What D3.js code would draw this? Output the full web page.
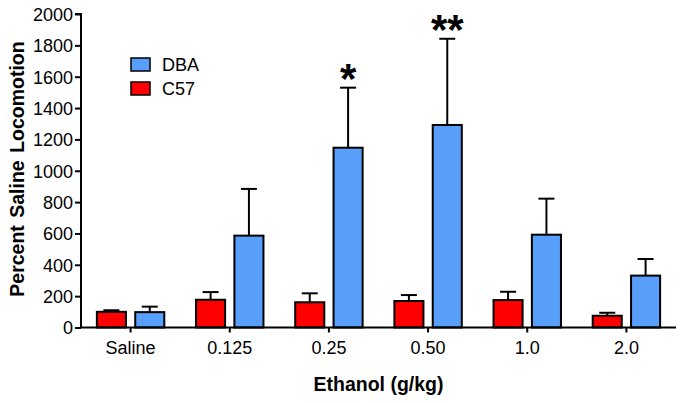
<!DOCTYPE html>
<html>
<head>
<meta charset="utf-8">
<script src="https://cdn.jsdelivr.net/npm/d3@7"></script>
<style>
  html, body { margin: 0; padding: 0; background: #fff; }
  svg { display: block; }
  text { font-family: "Liberation Sans", Arial, Helvetica, sans-serif; fill: #000; }
</style>
</head>
<body>
<svg id="chart" width="683" height="403"></svg>
<script>
const categories = ["Saline", "0.125", "0.25", "0.50", "1.0", "2.0"];
const seriesNames = ["C57", "DBA"];
const c57Values = [100, 177, 161, 169, 175, 75];
const c57Errors = [110, 226, 218, 207, 228, 94];
const dbaValues = [98, 586, 1147, 1292, 592, 331];
const dbaErrors = [133, 884, 1530, 1842, 822, 437];
const significance = ["", "", "*", "**", "", ""];
const yTicks = [0, 200, 400, 600, 800, 1000, 1200, 1400, 1600, 1800, 2000];
const colors = { C57: "#ff0000", DBA: "#579ffb" };

const svg = d3.select("#chart");
const x = d3.scaleBand().domain(categories).range([81, 676]).paddingInner(0.3).paddingOuter(0.15);
const xs = d3.scaleBand().domain(seriesNames).range([0, x.bandwidth()]).paddingInner(0.19);
const y = d3.scaleLinear().domain([0, 2000]).range([327.5, 14]);

const rows = categories.map((c, i) => ({
  cat: c,
  bars: [
    { s: "C57", v: c57Values[i], e: c57Errors[i] },
    { s: "DBA", v: dbaValues[i], e: dbaErrors[i] }
  ],
  sig: significance[i]
}));

const g = svg.append("g");
const groups = g.selectAll("g.cat").data(rows).join("g")
  .attr("transform", d => `translate(${x(d.cat)},0)`);

// error bars (upward only)
groups.selectAll("g.err").data(d => d.bars).join("g").each(function(b) {
  const cx = xs(b.s) + xs.bandwidth() / 2;
  const sel = d3.select(this);
  sel.append("line").attr("x1", cx).attr("x2", cx).attr("y1", y(b.v)).attr("y2", y(b.e))
    .attr("stroke", "#000").attr("stroke-width", 2);
  sel.append("line").attr("x1", cx - 8).attr("x2", cx + 8).attr("y1", y(b.e)).attr("y2", y(b.e))
    .attr("stroke", "#000").attr("stroke-width", 2);
});

groups.selectAll("rect").data(d => d.bars).join("rect")
  .attr("x", b => xs(b.s) + 1)
  .attr("width", xs.bandwidth() - 2)
  .attr("y", b => y(b.v))
  .attr("height", b => y(0) - y(b.v))
  .attr("fill", b => colors[b.s])
  .attr("stroke", "#000")
  .attr("stroke-width", 2);

// significance stars
groups.filter(d => d.sig).append("text")
  .attr("x", xs("DBA") + xs.bandwidth() / 2)
  .attr("y", d => y(d.bars[1].e) + 5)
  .attr("text-anchor", "middle")
  .attr("font-size", 42)
  .attr("font-weight", "bold")
  .text(d => d.sig);

// axes
const yAxis = svg.append("g").attr("transform", "translate(81,0)")
  .call(d3.axisLeft(y).tickValues(yTicks).tickSize(6).tickPadding(2).tickFormat(d3.format("d")));
yAxis.select(".domain").attr("d", `M-6,${y(2000)}H0V${y(0)}`).attr("stroke-width", 2);
yAxis.selectAll(".tick line").attr("stroke-width", 2);
yAxis.selectAll(".tick text").attr("font-size", 18).attr("font-family", "Liberation Sans, Arial, sans-serif").attr("dy", "0.36em");

const xAxis = svg.append("g").attr("transform", `translate(0,${y(0)})`)
  .call(d3.axisBottom(x).tickSize(5).tickPadding(9));
xAxis.select(".domain").attr("d", "M81,0H676").attr("stroke-width", 2);
xAxis.selectAll(".tick line").attr("stroke-width", 2);
xAxis.selectAll(".tick text").attr("font-size", 18).attr("font-family", "Liberation Sans, Arial, sans-serif");

// axis titles
svg.append("text")
  .attr("transform", `translate(24,169) rotate(-90)`)
  .attr("text-anchor", "middle")
  .attr("font-size", 19.5)
  .attr("font-weight", "bold")
  .attr("word-spacing", 2)
  .text("Percent Saline Locomotion");

svg.append("text")
  .attr("x", 378.5).attr("y", 391)
  .attr("text-anchor", "middle")
  .attr("font-size", 19.5)
  .attr("font-weight", "bold")
  .text("Ethanol (g/kg)");

// legend
const legendItems = ["DBA", "C57"];
const legend = svg.append("g").attr("transform", "translate(131,58)");
legendItems.forEach((name, i) => {
  legend.append("rect").attr("x", 0).attr("y", i * 24).attr("width", 19).attr("height", 13)
    .attr("fill", colors[name]).attr("stroke", "#000").attr("stroke-width", 1.5);
  legend.append("text").attr("x", 31).attr("y", i * 24 + 13)
    .attr("font-size", 18).text(name);
});
</script>
</body>
</html>
